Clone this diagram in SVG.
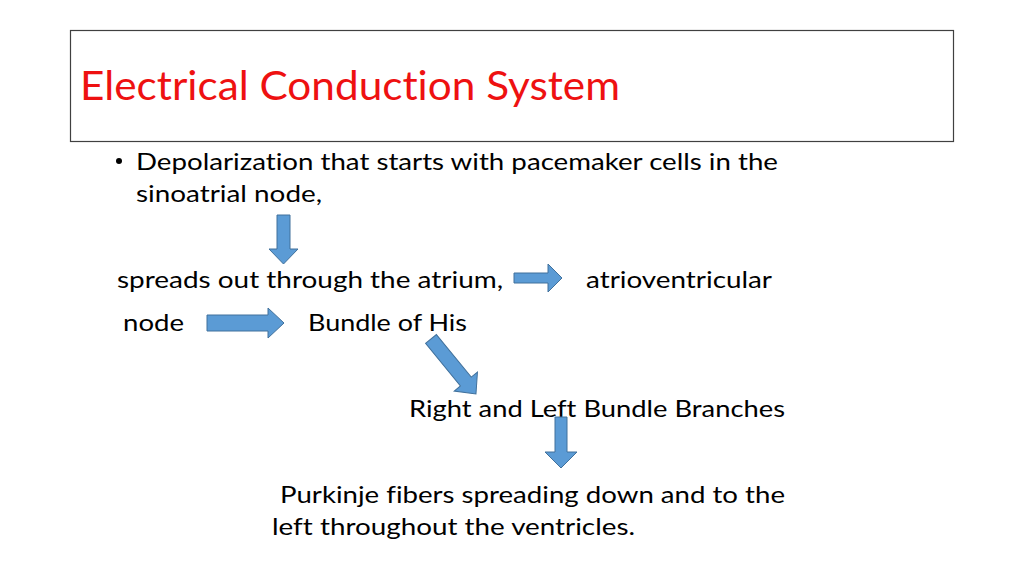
<svg xmlns="http://www.w3.org/2000/svg" width="1024" height="576" viewBox="0 0 1024 576">
<style>
.t{font-family:Lato,"Liberation Sans",sans-serif;font-size:24px;fill:#000;font-variant-ligatures:none}
.title{font-family:Lato,"Liberation Sans",sans-serif;font-size:40px;fill:#ee1111;font-variant-ligatures:none}
.arr{fill:#5b9bd5;stroke:#41719c;stroke-width:1}
</style>
<rect width="1024" height="576" fill="#fff"/>
<g id="title-box">
<rect x="70.5" y="30.5" width="883" height="111" fill="#fff" stroke="#404040" stroke-width="1.2"/>
<text class="title" x="80" y="100" textLength="540" lengthAdjust="spacingAndGlyphs">Electrical Conduction System</text>
</g>
<g id="n-sa">
<circle cx="119" cy="161" r="3" fill="#000"/>
<text class="t" x="136" y="170" textLength="642" lengthAdjust="spacingAndGlyphs">Depolarization that starts with pacemaker cells in the</text>
<text class="t" x="136" y="202" textLength="186" lengthAdjust="spacingAndGlyphs">sinoatrial node,</text>
</g>
<g id="n-atrium">
<text class="t" x="117" y="288" textLength="386" lengthAdjust="spacingAndGlyphs">spreads out through the atrium,</text>
</g>
<g id="n-av">
<text class="t" x="586" y="288" textLength="186" lengthAdjust="spacingAndGlyphs">atrioventricular</text>
<text class="t" x="123" y="331" textLength="61" lengthAdjust="spacingAndGlyphs">node</text>
</g>
<g id="n-his">
<text class="t" x="308" y="331" textLength="159" lengthAdjust="spacingAndGlyphs">Bundle of His</text>
</g>
<g id="n-branches">
<text class="t" x="409" y="417" textLength="376" lengthAdjust="spacingAndGlyphs">Right and Left Bundle Branches</text>
</g>
<g id="n-purkinje">
<text class="t" x="280" y="503" textLength="505" lengthAdjust="spacingAndGlyphs">Purkinje fibers spreading down and to the</text>
<text class="t" x="272" y="535" textLength="363" lengthAdjust="spacingAndGlyphs">left throughout the ventricles.</text>
</g>
<g id="connectors">
<path class="arr" d="M277,215 H290 V249 H298 L283.5,264 L269,249 H277 Z"/>
<path class="arr" d="M514,273 H548 V264 L562,278 L548,292 V283 H514 Z"/>
<path class="arr" d="M207,315 H268 V308 L284,323 L268,338 V331 H207 Z"/>
<path class="arr" transform="translate(431,339) rotate(50.7)" d="M0,-7 H55 V-15 L71,0 L55,15 V7 H0 Z"/>
<path class="arr" d="M555,417 H567 V452 H577 L561,468 L545,452 H555 Z"/>
</g>
</svg>
